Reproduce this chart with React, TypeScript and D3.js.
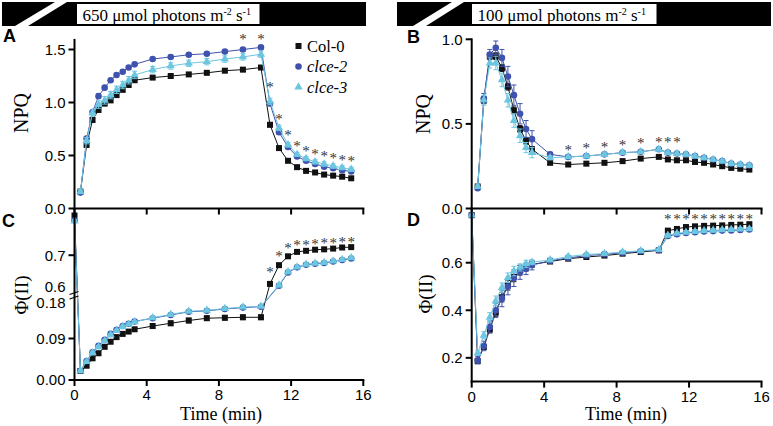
import React from 'react';
import * as d3 from 'd3';

const TIME = [0, 0.33, 0.67, 1.0, 1.33, 1.67, 2.0, 2.33, 2.67, 3.0, 3.33, 4.33, 5.33, 6.33, 7.33, 8.33, 9.33, 10.33, 10.83, 11.33, 11.83, 12.33, 12.83, 13.33, 13.83, 14.33, 14.83, 15.33];
const SERIES = ['Col-0', 'clce-2', 'clce-3'];
const COLORS = ['#111111', '#3f52ad', '#6cc6e0'];

// Panel A: NPQ at 650
const npqHighCol = [null, 0.16, 0.60, 0.835, 0.93, 0.99, 1.02, 1.07, 1.12, 1.165, 1.21, 1.235, 1.25, 1.265, 1.28, 1.30, 1.31, 1.33, 0.79, 0.57, 0.45, 0.39, 0.355, 0.34, 0.32, 0.31, 0.30, 0.285];
const npqHighC2 = [null, 0.15, 0.66, 0.91, 1.06, 1.14, 1.21, 1.26, 1.29, 1.33, 1.36, 1.41, 1.43, 1.45, 1.46, 1.48, 1.50, 1.52, 0.99, 0.72, 0.58, 0.49, 0.45, 0.42, 0.395, 0.38, 0.36, 0.35];
const npqHighC3 = [null, 0.16, 0.64, 0.90, 0.98, 1.02, 1.07, 1.12, 1.165, 1.21, 1.26, 1.31, 1.345, 1.37, 1.385, 1.41, 1.43, 1.455, 1.01, 0.76, 0.60, 0.51, 0.47, 0.44, 0.42, 0.40, 0.385, 0.37];
const errHighCol = [null, 0.01, 0.02, 0.02, 0.02, 0.02, 0.02, 0.02, 0.02, 0.02, 0.02, 0.015, 0.015, 0.015, 0.015, 0.015, 0.015, 0.015, 0.02, 0.015, 0.01, 0.01, 0.01, 0.01, 0.01, 0.01, 0.01, 0.01];
const errHighC2 = [null, 0.01, 0.02, 0.02, 0.02, 0.02, 0.015, 0.015, 0.015, 0.015, 0.015, 0.015, 0.015, 0.015, 0.015, 0.015, 0.015, 0.015, 0.02, 0.02, 0.015, 0.015, 0.015, 0.015, 0.015, 0.015, 0.015, 0.015];
const errHighC3 = [null, 0.02, 0.03, 0.03, 0.035, 0.035, 0.035, 0.035, 0.035, 0.035, 0.035, 0.03, 0.03, 0.03, 0.03, 0.03, 0.03, 0.03, 0.03, 0.025, 0.02, 0.02, 0.02, 0.02, 0.02, 0.02, 0.02, 0.02];
const starsHighT = [9.33, 10.33, 10.83, 11.33, 11.83, 12.33, 12.83, 13.33, 13.83, 14.33, 14.83, 15.33];
const starsHighV = [1.615, 1.615, 1.165, 0.854, 0.703, 0.608, 0.561, 0.524, 0.505, 0.49, 0.476, 0.462];

// Panel B: NPQ at 100
const npqLowCol = [null, 0.13, 0.64, 0.90, 0.90, 0.83, 0.72, 0.58, 0.47, 0.40, 0.35, 0.27, 0.26, 0.265, 0.27, 0.28, 0.295, 0.305, 0.29, 0.285, 0.285, 0.275, 0.27, 0.26, 0.25, 0.24, 0.235, 0.23];
const npqLowC2 = [null, 0.12, 0.65, 0.91, 0.95, 0.89, 0.78, 0.67, 0.56, 0.47, 0.41, 0.32, 0.305, 0.31, 0.32, 0.33, 0.335, 0.35, 0.33, 0.325, 0.32, 0.31, 0.30, 0.29, 0.28, 0.265, 0.26, 0.255];
const npqLowC3 = [null, 0.13, 0.64, 0.86, 0.86, 0.76, 0.64, 0.52, 0.43, 0.36, 0.33, 0.30, 0.305, 0.31, 0.32, 0.33, 0.335, 0.35, 0.33, 0.325, 0.32, 0.31, 0.30, 0.29, 0.28, 0.265, 0.26, 0.255];
const errLowCol = [null, 0.01, 0.02, 0.02, 0.02, 0.02, 0.02, 0.02, 0.02, 0.02, 0.015, 0.01, 0.01, 0.01, 0.01, 0.01, 0.01, 0.01, 0.01, 0.01, 0.01, 0.01, 0.01, 0.01, 0.01, 0.01, 0.01, 0.01];
const errLowC2 = [null, 0.01, 0.03, 0.03, 0.04, 0.05, 0.06, 0.06, 0.06, 0.05, 0.05, 0.012, 0.01, 0.01, 0.01, 0.01, 0.01, 0.01, 0.01, 0.01, 0.01, 0.01, 0.01, 0.01, 0.01, 0.01, 0.01, 0.01];
const errLowC3 = [null, 0.01, 0.03, 0.03, 0.04, 0.04, 0.04, 0.04, 0.04, 0.03, 0.03, 0.012, 0.01, 0.01, 0.01, 0.01, 0.01, 0.01, 0.01, 0.01, 0.01, 0.01, 0.01, 0.01, 0.01, 0.01, 0.01, 0.01];
const starsLowT = [5.33, 6.33, 7.33, 8.33, 9.33, 10.33, 10.83, 11.33];
const starsLowV = [0.355, 0.365, 0.375, 0.385, 0.395, 0.404, 0.404, 0.404];

// Panel C: Phi(II) at 650
const phiHighCol = [0.808, 0.0195, 0.031, 0.047, 0.058, 0.072, 0.083, 0.093, 0.100, 0.105, 0.110, 0.117, 0.123, 0.129, 0.134, 0.135, 0.136, 0.136, 0.622, 0.673, 0.697, 0.709, 0.712, 0.715, 0.716, 0.718, 0.721, 0.722];
const phiHighC2 = [0.795, 0.02, 0.041, 0.060, 0.074, 0.087, 0.100, 0.109, 0.117, 0.122, 0.127, 0.134, 0.141, 0.148, 0.150, 0.154, 0.157, 0.159, null, 0.617, 0.653, 0.667, 0.674, 0.677, 0.679, 0.683, 0.687, 0.691];
const phiHighC3 = [0.793, 0.02, 0.040, 0.059, 0.072, 0.085, 0.098, 0.107, 0.116, 0.121, 0.126, 0.135, 0.142, 0.149, 0.151, 0.155, 0.158, 0.160, null, 0.619, 0.655, 0.668, 0.675, 0.678, 0.680, 0.684, 0.688, 0.693];
const errPhiHighCol = [0.004, 0.003, 0.004, 0.004, 0.004, 0.004, 0.004, 0.004, 0.004, 0.004, 0.004, 0.005, 0.005, 0.005, 0.005, 0.005, 0.005, 0.005, 0.005, 0.004, 0.004, 0.004, 0.004, 0.004, 0.004, 0.004, 0.004, 0.004];
const errPhiHighC2 = [0.004, 0.003, 0.003, 0.003, 0.003, 0.003, 0.003, 0.003, 0.003, 0.003, 0.003, 0.003, 0.003, 0.003, 0.003, 0.003, 0.003, 0.003, null, 0.005, 0.005, 0.004, 0.004, 0.004, 0.004, 0.004, 0.004, 0.004];
const errPhiHighC3 = [0.004, 0.003, 0.003, 0.003, 0.003, 0.003, 0.003, 0.003, 0.003, 0.003, 0.003, 0.003, 0.003, 0.003, 0.003, 0.003, 0.003, 0.003, null, 0.005, 0.005, 0.004, 0.004, 0.004, 0.004, 0.004, 0.004, 0.004];
const starsPhiHighT = [10.83, 11.33, 11.83, 12.33, 12.83, 13.33, 13.83, 14.33, 14.83, 15.33];
const starsPhiHighV = [0.659, 0.703, 0.724, 0.732, 0.733, 0.735, 0.736, 0.738, 0.739, 0.741];

// Panel D: Phi(II) at 100
const phiLowCol = [0.80, 0.186, 0.246, 0.32, 0.39, 0.455, 0.505, 0.54, 0.568, 0.58, 0.593, 0.605, 0.617, 0.624, 0.63, 0.638, 0.645, 0.652, 0.735, 0.742, 0.75, 0.753, 0.755, 0.756, 0.757, 0.759, 0.760, 0.762];
const phiLowC2 = [0.80, 0.19, 0.25, 0.33, 0.40, 0.45, 0.50, 0.535, 0.56, 0.575, 0.59, 0.608, 0.62, 0.63, 0.636, 0.642, 0.648, 0.653, 0.712, 0.72, 0.725, 0.728, 0.731, 0.733, 0.735, 0.736, 0.738, 0.74];
const phiLowC3 = [0.80, 0.22, 0.295, 0.37, 0.44, 0.495, 0.537, 0.565, 0.58, 0.595, 0.602, 0.612, 0.626, 0.635, 0.638, 0.645, 0.65, 0.655, 0.715, 0.724, 0.728, 0.731, 0.734, 0.736, 0.738, 0.739, 0.741, 0.742];
const errPhiLowCol = [0.005, 0.01, 0.01, 0.015, 0.015, 0.02, 0.02, 0.02, 0.02, 0.015, 0.01, 0.008, 0.006, 0.006, 0.005, 0.005, 0.005, 0.005, 0.006, 0.006, 0.005, 0.005, 0.005, 0.005, 0.005, 0.005, 0.005, 0.005];
const errPhiLowC2 = [0.005, 0.015, 0.02, 0.025, 0.03, 0.035, 0.035, 0.035, 0.03, 0.025, 0.02, 0.01, 0.008, 0.008, 0.008, 0.008, 0.008, 0.008, 0.008, 0.008, 0.008, 0.008, 0.008, 0.008, 0.008, 0.008, 0.008, 0.008];
const errPhiLowC3 = [0.005, 0.01, 0.015, 0.02, 0.02, 0.02, 0.02, 0.02, 0.015, 0.015, 0.01, 0.008, 0.006, 0.006, 0.006, 0.006, 0.006, 0.006, 0.006, 0.006, 0.006, 0.006, 0.006, 0.006, 0.006, 0.006, 0.006, 0.006];
const starsPhiLowT = [10.83, 11.33, 11.83, 12.33, 12.83, 13.33, 13.83, 14.33, 14.83, 15.33];
const starsPhiLowV = [0.791, 0.791, 0.791, 0.791, 0.791, 0.791, 0.791, 0.791, 0.791, 0.791];

const X_TICKS = [0, 4, 8, 12, 16];
const TICKS_A = [0, 0.5, 1.0, 1.5];
const TICKS_B = [0, 0.5, 1.0];
const TICKS_C_LOW = [0, 0.09];
const TICKS_C_HIGH = [0.7];
const TICKS_D = [0.2, 0.4, 0.6];

const SANS: React.CSSProperties = { fontFamily: 'Liberation Sans, Arial, sans-serif' };
const SERIF: React.CSSProperties = { fontFamily: 'Liberation Serif, Times New Roman, Times, serif' };

const symbols = [
  d3.symbol().type(d3.symbolSquare).size(36)(),
  d3.symbol().type(d3.symbolCircle).size(34)(),
  d3.symbol().type(d3.symbolTriangle).size(30)(),
];

type Scale = (v: number) => number;

function Series({ x, y, vals, errs, idx }: { x: Scale; y: Scale; vals: (number | null)[]; errs: (number | null)[]; idx: number }) {
  const pts = TIME.map((t, i) => ({ t, v: vals[i], e: errs[i] })).filter((p) => p.v !== null) as { t: number; v: number; e: number | null }[];
  const line = d3.line<{ t: number; v: number }>().x((p) => x(p.t)).y((p) => y(p.v));
  const c = COLORS[idx];
  return (
    <g>
      <path d={line(pts) || ''} fill="none" stroke={c} strokeWidth={1} />
      {pts.map((p, i) =>
        p.e ? (
          <g key={'e' + i} stroke={c} strokeWidth={1}>
            <line x1={x(p.t)} x2={x(p.t)} y1={y(p.v - p.e)} y2={y(p.v + p.e)} />
            <line x1={x(p.t) - 2.5} x2={x(p.t) + 2.5} y1={y(p.v + p.e)} y2={y(p.v + p.e)} />
            <line x1={x(p.t) - 2.5} x2={x(p.t) + 2.5} y1={y(p.v - p.e)} y2={y(p.v - p.e)} />
          </g>
        ) : null
      )}
      {pts.map((p, i) => (
        <path key={'m' + i} d={symbols[idx] || ''} transform={`translate(${x(p.t)},${y(p.v)})`} fill={c} />
      ))}
    </g>
  );
}

function Stars({ x, y, ts, vs }: { x: Scale; y: Scale; ts: number[]; vs: number[] }) {
  return (
    <g>
      {ts.map((t, i) => (
        <text key={i} x={x(t)} y={y(vs[i]) + 6.5} textAnchor="middle" style={SERIF} fontSize={15} fill="#333">*</text>
      ))}
    </g>
  );
}

function YTicks({ x0, y, ticks, fmt }: { x0: number; y: Scale; ticks: number[]; fmt: (v: number) => string }) {
  return (
    <g>
      {ticks.map((v) => (
        <g key={v}>
          <line x1={x0 - 6} x2={x0} y1={y(v)} y2={y(v)} stroke="#000" strokeWidth={2} />
          <text x={x0 - 9} y={y(v)} dy="0.36em" textAnchor="end" style={SANS} fontSize={15}>{fmt(v)}</text>
        </g>
      ))}
    </g>
  );
}

function XAxis({ x, yPos, labels }: { x: Scale; yPos: number; labels: boolean }) {
  return (
    <g>
      <line x1={x(0) - 1} x2={x(16) + 1} y1={yPos} y2={yPos} stroke="#000" strokeWidth={2} />
      {X_TICKS.map((t) => (
        <g key={t}>
          <line x1={x(t)} x2={x(t)} y1={yPos} y2={yPos + 6} stroke="#000" strokeWidth={2} />
          {labels && (
            <text x={x(t)} y={yPos + 20} textAnchor="middle" style={SANS} fontSize={15}>{t}</text>
          )}
        </g>
      ))}
    </g>
  );
}

function Header({ x1, x2, boxX1, boxX2, stripe, label }: { x1: number; x2: number; boxX1: number; boxX2: number; stripe: number[]; label: string }) {
  const [b0, b1, t0, t1] = stripe;
  return (
    <g>
      <rect x={x1} y={2} width={x2 - x1} height={24} fill="#000" />
      <polygon points={`${b0},26 ${b1},26 ${t1},2 ${t0},2`} fill="#fff" />
      <rect x={boxX1} y={3.5} width={boxX2 - boxX1} height={21} fill="#fff" stroke="#000" strokeWidth={1} />
      <text x={boxX1 + 6} y={20.5} style={SERIF} fontSize={17}>
        {label} μmol photons m<tspan dy={-6} fontSize={10}>-2</tspan>
        <tspan dy={6}> s</tspan><tspan dy={-6} fontSize={10}>-1</tspan>
      </text>
    </g>
  );
}

export default function App() {
  const xA = d3.scaleLinear().domain([0, 16]).range([74.5, 363.3]);
  const xB = d3.scaleLinear().domain([0, 16]).range([471.7, 761.5]);
  const yA = d3.scaleLinear().domain([0, 1.6]).range([208.5, 38.9]);
  const yB = d3.scaleLinear().domain([0, 1]).range([208.5, 39.3]);
  const yC = d3.scaleLinear().domain([0, 0.18, 0.6, 0.827]).range([380, 297, 292, 208.5]);
  const yD = d3.scaleLinear().domain([0.1, 0.828]).range([381.6, 208.5]);

  const fmt1 = (v: number) => v.toFixed(1);
  const fmt2 = (v: number) => v.toFixed(2);

  const x0A = xA(0);
  const x0B = xB(0);

  return (
    <svg width={773} height={426} style={{ position: 'absolute', left: 0, top: 0, background: '#fff' }}>
      <rect width={773} height={426} fill="#fff" />
      <Header x1={2} x2={366} boxX1={76.5} boxX2={260} stripe={[15, 28, 55, 67]} label="650" />
      <Header x1={397} x2={771} boxX1={471.5} boxX2={657} stripe={[413, 426, 452, 464]} label="100" />

      {/* Panel letters */}
      <text x={3} y={42} style={SANS} fontWeight="bold" fontSize={18}>A</text>
      <text x={407} y={43} style={SANS} fontWeight="bold" fontSize={18}>B</text>
      <text x={2} y={227} style={SANS} fontWeight="bold" fontSize={18}>C</text>
      <text x={407} y={226} style={SANS} fontWeight="bold" fontSize={18}>D</text>

      {/* Axis titles */}
      <text transform="translate(21,113) rotate(-90)" textAnchor="middle" dy="0.35em" style={SERIF} fontSize={20}>NPQ</text>
      <text transform="translate(423,114) rotate(-90)" textAnchor="middle" dy="0.35em" style={SERIF} fontSize={20}>NPQ</text>
      <text transform="translate(21,295) rotate(-90)" textAnchor="middle" dy="0.35em" style={SERIF} fontSize={19}>Φ(II)</text>
      <text transform="translate(425,294) rotate(-90)" textAnchor="middle" dy="0.35em" style={SERIF} fontSize={19}>Φ(II)</text>
      <text x={221} y={420} textAnchor="middle" style={SERIF} fontSize={18}>Time (min)</text>
      <text x={626} y={420} textAnchor="middle" style={SERIF} fontSize={18}>Time (min)</text>

      {/* Panel A */}
      <g>
        <Series x={xA} y={yA} vals={npqHighCol} errs={errHighCol} idx={0} />
        <Series x={xA} y={yA} vals={npqHighC2} errs={errHighC2} idx={1} />
        <Series x={xA} y={yA} vals={npqHighC3} errs={errHighC3} idx={2} />
        <Stars x={xA} y={yA} ts={starsHighT} vs={starsHighV} />
        <line x1={x0A} x2={x0A} y1={yA(1.6)} y2={yA(0)} stroke="#000" strokeWidth={2} />
        <YTicks x0={x0A} y={yA} ticks={TICKS_A} fmt={fmt1} />
        <XAxis x={xA} yPos={yA(0)} labels={false} />
        {/* Legend */}
        {SERIES.map((s, i) => (
          <g key={s} transform={`translate(0,${46 + i * 20.5})`}>
            <path d={symbols[i] || ''} transform="translate(298.5,0)" fill={COLORS[i]} />
            <text x={307} y={0} dy="0.35em" style={SERIF} fontSize={16.5} fontStyle={i === 0 ? 'normal' : 'italic'}>{s}</text>
          </g>
        ))}
      </g>

      {/* Panel B */}
      <g>
        <Series x={xB} y={yB} vals={npqLowCol} errs={errLowCol} idx={0} />
        <Series x={xB} y={yB} vals={npqLowC2} errs={errLowC2} idx={1} />
        <Series x={xB} y={yB} vals={npqLowC3} errs={errLowC3} idx={2} />
        <Stars x={xB} y={yB} ts={starsLowT} vs={starsLowV} />
        <line x1={x0B} x2={x0B} y1={yB(1) - 1} y2={yB(0)} stroke="#000" strokeWidth={2} />
        <YTicks x0={x0B} y={yB} ticks={TICKS_B} fmt={fmt1} />
        <XAxis x={xB} yPos={yB(0)} labels={false} />
      </g>

      {/* Panel C */}
      <g>
        <Series x={xA} y={yC} vals={phiHighCol} errs={errPhiHighCol} idx={0} />
        <Series x={xA} y={yC} vals={phiHighC2} errs={errPhiHighC2} idx={1} />
        <Series x={xA} y={yC} vals={phiHighC3} errs={errPhiHighC3} idx={2} />
        <Stars x={xA} y={yC} ts={starsPhiHighT} vs={starsPhiHighV} />
        <line x1={x0A} x2={x0A} y1={yC(0.827)} y2={yC(0) + 1} stroke="#000" strokeWidth={2} />
        <YTicks x0={x0A} y={yC} ticks={TICKS_C_LOW} fmt={fmt2} />
        <YTicks x0={x0A} y={yC} ticks={TICKS_C_HIGH} fmt={fmt1} />
        <text x={x0A - 9} y={yC(0.6) - 5} dy="0.36em" textAnchor="end" style={SANS} fontSize={15}>0.6</text>
        <text x={x0A - 9} y={yC(0.18) + 5.5} dy="0.36em" textAnchor="end" style={SANS} fontSize={15}>0.18</text>
        <line x1={x0A - 5} x2={x0A + 4} y1={yC(0.6) + 2.5} y2={yC(0.6) - 0.5} stroke="#000" strokeWidth={1.3} />
        <line x1={x0A - 5} x2={x0A + 4} y1={yC(0.18) + 2} y2={yC(0.18) - 1} stroke="#000" strokeWidth={1.3} />
        <XAxis x={xA} yPos={yC(0)} labels={true} />
      </g>

      {/* Panel D */}
      <g>
        <Series x={xB} y={yD} vals={phiLowCol} errs={errPhiLowCol} idx={0} />
        <Series x={xB} y={yD} vals={phiLowC2} errs={errPhiLowC2} idx={1} />
        <Series x={xB} y={yD} vals={phiLowC3} errs={errPhiLowC3} idx={2} />
        <Stars x={xB} y={yD} ts={starsPhiLowT} vs={starsPhiLowV} />
        <line x1={x0B} x2={x0B} y1={yD(0.828)} y2={yD(0.1) + 1} stroke="#000" strokeWidth={2} />
        <YTicks x0={x0B} y={yD} ticks={TICKS_D} fmt={fmt1} />
        <XAxis x={xB} yPos={yD(0.1)} labels={true} />
      </g>
    </svg>
  );
}
